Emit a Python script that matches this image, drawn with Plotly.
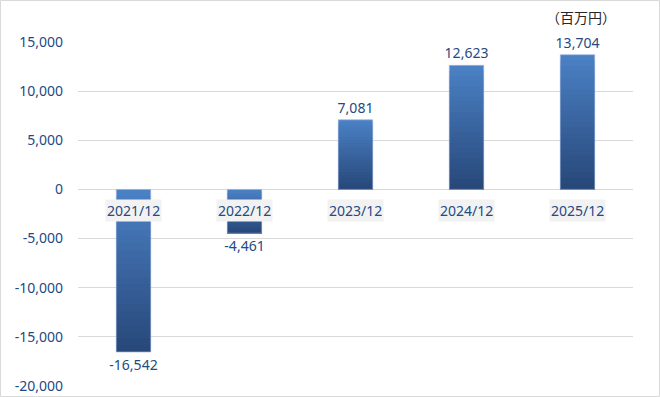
import plotly.graph_objects as go

categories = ["2021/12", "2022/12", "2023/12", "2024/12", "2025/12"]
values = [-16542, -4461, 7081, 12623, 13704]
tick_vals = [-20000, -15000, -10000, -5000, 0, 5000, 10000, 15000]
tick_text = ["-20,000", "-15,000", "-10,000", "-5,000", "0", "5,000", "10,000", "15,000"]
unit_label = "（百万円）"

W, H = 660, 397
L, R, T, B = 78, 27, 42, 11
pw, ph = W - L - R, H - T - B

dark = "#244A82"
light_rgb = (74, 128, 196)
dark_rgb = (40, 72, 122)
N = 24
BW = 0.31

fig = go.Figure()
# gradient fill: nested layers of each bar, each darker layer starts lower
for k in range(N):
    t = k / (N - 1)
    col = "rgb({},{},{})".format(*[round(a + (b - a) * t) for a, b in zip(light_rgb, dark_rgb)])
    bots = [min(0, v) for v in values]
    tops = [max(0, v) - abs(v) * k / N for v in values]
    fig.add_trace(go.Bar(
        x=categories, y=[tp - bt for tp, bt in zip(tops, bots)], base=bots,
        marker=dict(color=col, line=dict(width=0)), width=BW,
        hoverinfo="skip", showlegend=False,
    ))
fig.add_trace(go.Bar(
    x=categories, y=values,
    marker=dict(color="rgba(0,0,0,0)", line=dict(color="#9DB5DD", width=0.7)),
    text=[f"{v:,}" for v in values], textposition="outside",
    textfont=dict(family="Noto Sans", size=14, color=dark),
    constraintext="none",
    cliponaxis=False, width=BW,
))
for c in categories:
    fig.add_annotation(x=c, y=0, xref="x", yref="y", text=c, showarrow=False,
                       yshift=-21, bgcolor="#F2F2F2",
                       font=dict(family="Noto Sans", size=14, color=dark))
fig.add_annotation(x=(581 - L) / pw, y=(H - 17 - B) / ph, xref="paper", yref="paper",
                   xanchor="center", yanchor="middle", text=unit_label,
                   showarrow=False, font=dict(family="Noto Sans CJK JP", size=14, color="#262626"))

fig.add_shape(type="rect", xref="paper", yref="paper",
              x0=-(L - 0.5) / pw, x1=1 + (R - 0.5) / pw,
              y0=-(B - 0.5) / ph, y1=1 + (T - 0.5) / ph,
              line=dict(color="#D9D9D9", width=1))

fig.update_layout(
    width=W, height=H, margin=dict(l=L, r=R, t=T, b=B, autoexpand=False),
    paper_bgcolor="white", plot_bgcolor="white", showlegend=False,
    barmode="overlay",
    xaxis=dict(showticklabels=False, showgrid=False, zeroline=False, showline=False,
               ticks="", automargin=False),
    yaxis=dict(range=[-20000, 15000], tickvals=tick_vals, ticktext=tick_text,
               showgrid=True, gridcolor="#D9D9D9", gridwidth=1,
               zeroline=True, zerolinecolor="#D9D9D9", zerolinewidth=1,
               tickfont=dict(family="Noto Sans", size=14, color=dark), ticks="",
               ticklabelstandoff=14, automargin=False),
)
fig.write_html("out.html", config={"displayModeBar": False},
               post_script="document.body.style.margin='0';")
